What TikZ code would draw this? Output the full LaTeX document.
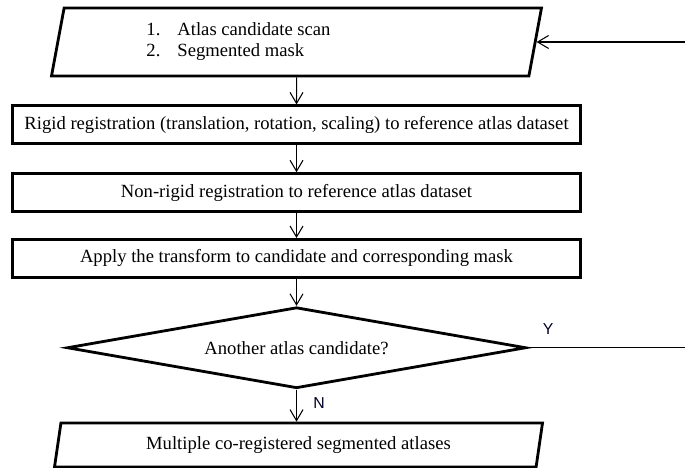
\documentclass[tikz,border=0pt]{standalone}
\usepackage{fontspec}
\setmainfont{Liberation Serif}
\newfontfamily\ynfont{Liberation Sans}
\usetikzlibrary{positioning,shapes.geometric,arrows.meta}

\begin{document}
\begin{tikzpicture}[
    base/.style = {draw=black, line width=1.6pt, inner sep=2pt,
text centered, font=\fontsize{10.6}{11.4}\selectfont},
io/.style = {base, trapezium, trapezium left angle=75,
trapezium right angle=105, trapezium stretches body=true},
process/.style = {base, rectangle, minimum width=11.36cm, minimum height=0.76cm},
decision/.style = {base, diamond, aspect=5.67, minimum width=9.18cm, minimum height=1.62cm,
inner sep=0pt},
line/.style = {draw, line width=0.6pt, -{Straight Barb[length=2.2mm,width=2.6mm]}},
answer/.style = {font=\ynfont\fontsize{9}{10}\selectfont, text=black!85!blue},
node distance=0.54cm
]
  \useasboundingbox (0,0) rectangle (13.7,-9.36);

  \node (input)  [io, minimum width=9.8cm, minimum height=1.36cm] at (5.93,-0.84)
    {\hbox{\begin{tabular}{@{}l@{\hspace{0.34cm}}l@{}}1. & Atlas candidate scan\\
     2. & Segmented mask\end{tabular}\hspace{2.32cm}}};
  \node (rigid)  [process, below=of input] {Rigid registration (translation, rotation, scaling) to reference atlas dataset};
  \node (nonrig) [process, below=of rigid] {Non-rigid registration to reference atlas dataset};
  \node (apply)  [process, below=0.5cm of nonrig] {Apply the transform to candidate and corresponding mask};
  \node (check)  [decision, below=of apply] {Another atlas candidate?};
  \node (atlases) [io, minimum width=9.76cm, minimum height=0.88cm, below=0.64cm of check, xshift=0.04cm] {Multiple co-registered segmented atlases};

  \coordinate (rim) at (13.72,0);

  \draw[line] (input) -- (rigid);
  \draw[line] (rigid) -- (nonrig);
  \draw[line] (nonrig) -- (apply);
  \draw[line] (apply) -- (check);
  \draw[line] (check) -- node[answer, midway, right=6pt, yshift=0.06cm] {N} (check |- atlases.north);
  \draw[line] (check.east) -- node[answer, pos=0.13, above=4pt] {Y} (check.east -| rim) |- (input.east);

\end{tikzpicture}
\end{document}
